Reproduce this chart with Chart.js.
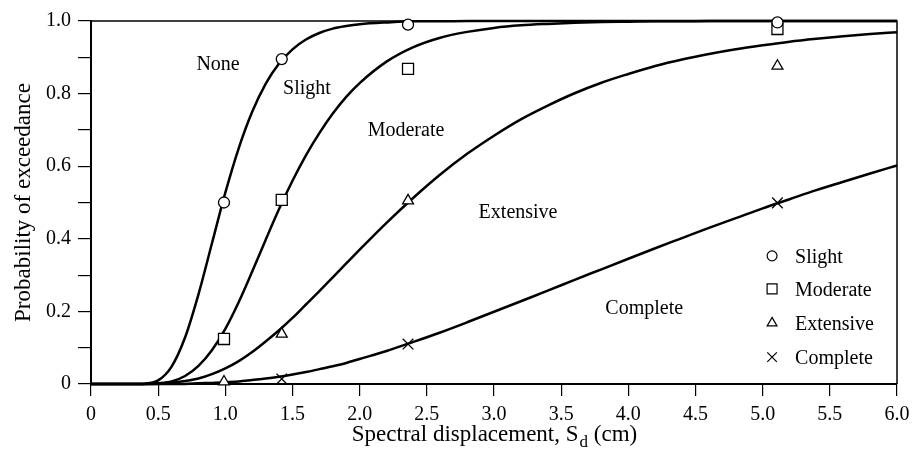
<!DOCTYPE html>
<html>
<head>
<meta charset="utf-8">
<script src="https://cdn.jsdelivr.net/npm/chart.js@4/dist/chart.umd.min.js"></script>
<style>
  html, body { margin: 0; padding: 0; background: #fff; }
  #wrap { width: 912px; height: 454px; }
</style>
</head>
<body>
<div id="wrap"><canvas id="fragility"></canvas></div>
<script>
// spectral displacement grid (cm) the curves are sampled on
const sdGrid = [0, 0.1, 0.2, 0.3, 0.4, 0.5, 0.6, 0.7, 0.8, 0.9, 1.0, 1.1, 1.2, 1.3, 1.4, 1.5, 1.6, 1.7, 1.8, 1.9, 2.0,
  2.2, 2.4, 2.6, 2.8, 3.0, 3.2, 3.4, 3.6, 3.8, 4.0, 4.2, 4.4, 4.6, 4.8, 5.0, 5.2, 5.4, 5.6, 5.8, 6.0];

// fragility curves, probability of exceedance
const slightCurve = [0, 0, 0, 0, 0.001, 0.010, 0.048, 0.128, 0.247, 0.387, 0.527, 0.650, 0.750, 0.827, 0.883, 0.922, 0.949, 0.967, 0.979, 0.986, 0.991,
  0.996, 0.999, 0.999, 1, 1, 1, 1, 1, 1, 1, 1, 1, 1, 1, 1, 1, 1, 1, 1, 1];
const moderateCurve = [0, 0, 0, 0, 0, 0.002, 0.007, 0.022, 0.050, 0.093, 0.152, 0.226, 0.310, 0.397, 0.482, 0.560, 0.630, 0.691, 0.745, 0.791, 0.829,
  0.888, 0.928, 0.954, 0.970, 0.981, 0.988, 0.992, 0.995, 0.997, 0.998, 0.999, 0.999, 1, 1, 1, 1, 1, 1, 1, 1];
const extensiveCurve = [0, 0, 0, 0, 0, 0.001, 0.003, 0.008, 0.015, 0.027, 0.043, 0.063, 0.088, 0.117, 0.148, 0.182, 0.219, 0.256, 0.294, 0.332, 0.370,
  0.444, 0.513, 0.577, 0.634, 0.684, 0.729, 0.767, 0.801, 0.830, 0.854, 0.876, 0.894, 0.909, 0.922, 0.933, 0.943, 0.951, 0.958, 0.964, 0.969];
const completeCurve = [0, 0, 0, 0, 0, 0, 0, 0, 0.002, 0.003, 0.005, 0.007, 0.011, 0.015, 0.020, 0.026, 0.033, 0.041, 0.049, 0.058, 0.069,
  0.091, 0.116, 0.142, 0.170, 0.199, 0.228, 0.257, 0.287, 0.316, 0.345, 0.374, 0.402, 0.430, 0.457, 0.484, 0.509, 0.534, 0.557, 0.580, 0.602];

// observed damage fractions
const testSd = [0.99, 1.42, 2.36, 5.11];
const slightObs = [0.500, 0.895, 0.990, 0.996];
const moderateObs = [0.124, 0.507, 0.868, 0.978];
const extensiveObs = [0.006, 0.138, 0.505, 0.876];
const completeSd = [1.42, 2.36, 5.11];
const completeObs = [0.014, 0.110, 0.499];

const FONT = "'Liberation Serif', 'Times New Roman', serif";

const pts = (xs, ys) => xs.map((x, i) => ({ x, y: ys[i] }));

function curve(values) {
  return {
    type: "line",
    data: pts(sdGrid, values),
    borderColor: "#000",
    borderWidth: 2.5,
    pointRadius: 0,
    fill: false,
    cubicInterpolationMode: "monotone",
    clip: 4,
    order: 2
  };
}

function markers(label, xs, ys, style, radius) {
  return {
    type: "scatter",
    label,
    data: pts(xs, ys),
    pointStyle: style,
    pointRadius: radius,
    pointBorderWidth: 1.3,
    pointBorderColor: "#000",
    pointBackgroundColor: "#fff",
    showLine: false,
    clip: 8,
    order: 1
  };
}

const markerSets = [
  markers("Slight", testSd, slightObs, "circle", 5.5),
  markers("Moderate", testSd, moderateObs, "rect", 7.8),
  markers("Extensive", testSd, extensiveObs, "triangle", 6.3),
  markers("Complete", completeSd, completeObs, "crossRot", 7.5)
];

// damage state names written beside the curves, in data units
const stateLabels = [
  { text: "None", x: 0.946, y: 0.865 },
  { text: "Slight", x: 1.608, y: 0.799 },
  { text: "Moderate", x: 2.345, y: 0.683 },
  { text: "Extensive", x: 3.179, y: 0.457 },
  { text: "Complete", x: 4.118, y: 0.193 }
];

const decorations = {
  id: "decorations",
  beforeDatasetsDraw(chart) {
    const { ctx, chartArea: a } = chart;
    ctx.save();
    ctx.strokeStyle = "#000";
    ctx.lineWidth = 1.5;
    ctx.beginPath();
    ctx.moveTo(a.left, a.top);
    ctx.lineTo(a.right, a.top);
    ctx.lineTo(a.right, a.bottom);
    ctx.stroke();
    ctx.restore();
  },
  afterDraw(chart) {
    const { ctx, scales: { x, y } } = chart;
    ctx.save();
    ctx.fillStyle = "#000";
    ctx.font = "20px " + FONT;
    ctx.textAlign = "center";
    ctx.textBaseline = "alphabetic";
    stateLabels.forEach(l => ctx.fillText(l.text, x.getPixelForValue(l.x), y.getPixelForValue(l.y)));

    // legend in the lower right corner
    const lx = x.getPixelForValue(5.07);
    const rows = [0.353, 0.262, 0.168, 0.074];
    markerSets.forEach((ds, i) => {
      const py = y.getPixelForValue(rows[i]);
      ctx.fillStyle = "#fff";
      ctx.strokeStyle = "#000";
      ctx.lineWidth = 1.2;
      Chart.helpers.drawPoint(ctx, { pointStyle: ds.pointStyle, radius: ds.pointRadius * 0.9, borderWidth: 1.2, rotation: 0 }, lx, py);
      ctx.fillStyle = "#000";
      ctx.textAlign = "left";
      ctx.fillText(ds.label, lx + 23, py + 7);
    });

    // x axis title with subscript
    const cx = (chart.chartArea.left + chart.chartArea.right) / 2;
    const base = 441;
    const main = "Spectral displacement, S";
    const sub = "d";
    const tail = " (cm)";
    ctx.font = "23px " + FONT;
    const wMain = ctx.measureText(main).width;
    const wTail = ctx.measureText(tail).width;
    ctx.font = "17px " + FONT;
    const wSub = ctx.measureText(sub).width;
    let sx = cx - (wMain + wSub + wTail) / 2;
    ctx.textAlign = "left";
    ctx.font = "23px " + FONT;
    ctx.fillText(main, sx, base);
    sx += wMain;
    ctx.font = "17px " + FONT;
    ctx.fillText(sub, sx + 1, base + 6);
    sx += wSub + 1;
    ctx.font = "23px " + FONT;
    ctx.fillText(tail, sx, base);
    ctx.restore();
  }
};

new Chart(document.getElementById("fragility"), {
  data: {
    datasets: [
      ...markerSets,
      curve(slightCurve),
      curve(moderateCurve),
      curve(extensiveCurve),
      curve(completeCurve)
    ]
  },
  options: {
    responsive: true,
    maintainAspectRatio: false,
    animation: false,
    layout: { padding: { top: 21, right: 15, left: 0, bottom: 0 } },
    plugins: { legend: { display: false }, tooltip: { enabled: false } },
    scales: {
      x: {
        type: "linear",
        min: 0,
        max: 6,
        afterFit: s => { s.height = 70; s.paddingLeft = 0; s.paddingRight = 0; },
        ticks: {
          stepSize: 0.5,
          autoSkip: false,
          maxRotation: 0,
          color: "#000",
          padding: 7,
          font: { family: FONT, size: 20 },
          callback: v => v === 0 ? "0" : v.toFixed(1)
        },
        grid: { drawOnChartArea: false, drawTicks: true, tickLength: 12, color: "#000", lineWidth: 1.2 },
        border: { color: "#000", width: 2 }
      },
      y: {
        min: 0,
        max: 1,
        afterFit: s => { s.width = 91; s.paddingTop = 0; s.paddingBottom = 0; },
        ticks: {
          stepSize: 0.1,
          autoSkip: false,
          color: "#000",
          padding: 7,
          font: { family: FONT, size: 20 },
          callback: v => {
            const r = Math.round(v * 10);
            if (r % 2) return "";
            return r === 0 ? "0" : (r / 10).toFixed(1);
          }
        },
        grid: { drawOnChartArea: false, drawTicks: true, tickLength: 13, color: "#000", lineWidth: 1.2 },
        border: { color: "#000", width: 2 },
        title: {
          display: true,
          text: "Probability of exceedance",
          color: "#000",
          font: { family: FONT, size: 23 },
          padding: { top: 10, bottom: 0 }
        }
      }
    }
  },
  plugins: [decorations]
});
</script>
</body>
</html>
